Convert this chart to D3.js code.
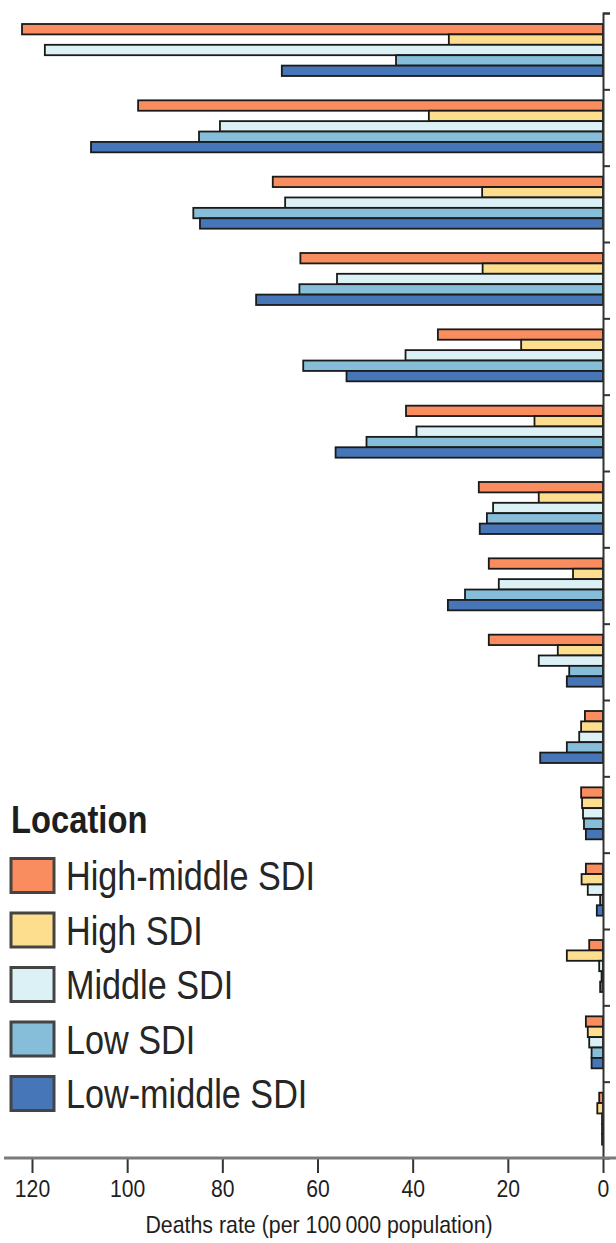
<!DOCTYPE html>
<html>
<head>
<meta charset="utf-8">
<script src="https://cdn.jsdelivr.net/npm/d3@7"></script>
<style>
html,body{margin:0;padding:0;background:#fff;}
svg{display:block;}
text{font-family:"Liberation Sans",Arial,sans-serif;}
</style>
</head>
<body>
<svg id="chart" width="616" height="1243"></svg>
<script>
// ---- data ----
const categories = ["Cause 1","Cause 2","Cause 3","Cause 4","Cause 5","Cause 6","Cause 7","Cause 8",
  "Cause 9","Cause 10","Cause 11","Cause 12","Cause 13","Cause 14","Cause 15"];
const seriesNames = ["High-middle SDI","High SDI","Middle SDI","Low SDI","Low-middle SDI"];
const seriesColors = ["#F98D60","#FDDD8E","#DCF1F6","#86BEDA","#4676B7"];
const highMiddle = [122.1, 97.7, 69.4, 63.6, 34.7, 41.4, 26.1, 24.0, 24.0, 3.8, 4.6, 3.6, 2.9, 3.6, 0.8];
const high       = [ 32.4, 36.6, 25.4, 25.3, 17.2, 14.4, 13.5,  6.3,  9.5, 4.6, 4.4, 4.5, 7.6, 3.2, 1.2];
const middle     = [117.3, 80.5, 66.8, 55.9, 41.5, 39.2, 23.1, 21.9, 13.5, 5.0, 4.2, 3.2, 0.8, 2.9, 0.2];
const low        = [ 43.5, 84.9, 86.1, 63.8, 63.0, 49.7, 24.4, 29.0,  7.1, 7.6, 4.0, 0.6, 0.3, 2.4, 0.2];
const lowMiddle  = [ 67.5,107.6, 84.7, 72.9, 53.9, 56.2, 25.9, 32.6,  7.6,13.2, 3.6, 1.3, 0.6, 2.4, 0.2];
const seriesValues = [highMiddle, high, middle, low, lowMiddle];
const xTicks = [0, 20, 40, 60, 80, 100, 120];
const xTitle = "Deaths rate (per 100\u2009000 population)";
const legendTitle = "Location";

// ---- layout ----
const svg = d3.select("#chart");
const x = d3.scaleLinear().domain([0, 120]).range([603, 32]);
const y = d3.scaleBand().domain(categories).range([13, 1158]).padding(0);
const ySub = d3.scaleBand().domain(seriesNames).range([11, 63]).padding(0);

// condensed text helper
function ctext(sel, tx, ty, sx) {
  return sel.append("text").attr("transform", `translate(${tx},${ty}) scale(${sx},1)`);
}

// bars
const rows = [];
categories.forEach((c, ci) => {
  seriesNames.forEach((s, si) => {
    rows.push({cat: c, series: s, value: seriesValues[si][ci], color: seriesColors[si]});
  });
});
svg.append("g").selectAll("rect").data(rows).join("rect")
  .attr("x", d => x(d.value))
  .attr("y", d => y(d.cat) + ySub(d.series))
  .attr("width", d => x(0) - x(d.value))
  .attr("height", ySub.bandwidth())
  .attr("fill", d => d.color)
  .attr("stroke", "#1a1a1a")
  .attr("stroke-width", 1.8);

// y axis (right side, ticks at band boundaries)
const yIdx = d3.scaleLinear().domain([0, categories.length]).range(y.range());
const yAxis = svg.append("g").attr("transform", `translate(${x(0)},0)`)
  .call(d3.axisRight(yIdx).tickValues(d3.range(0, categories.length)).tickSize(7).tickFormat(""));
yAxis.select(".domain").attr("stroke", "#333").attr("stroke-width", 2);
yAxis.selectAll(".tick line").attr("stroke", "#333").attr("stroke-width", 2);

// x axis
const xAxisY = y.range()[1];
const xAxis = svg.append("g").attr("transform", `translate(0,${xAxisY})`)
  .call(d3.axisBottom(x).tickValues(xTicks).tickSize(15).tickFormat(""));
xAxis.select(".domain").remove();
xAxis.append("line").attr("x1", 4).attr("x2", 616).attr("y1", 0).attr("y2", 0)
  .attr("stroke", "#7a7a7a").attr("stroke-width", 3);
xAxis.selectAll(".tick line").attr("stroke", "#333").attr("stroke-width", 2);
xAxis.selectAll(".tick").each(function(d) {
  ctext(d3.select(this), 0, 39, 0.9)
    .attr("text-anchor", "middle").attr("font-size", 23.5).attr("fill", "#1e1e1e").text(d);
});

ctext(svg, 319, 1233, 0.89).attr("text-anchor", "middle")
  .attr("font-size", 24).attr("fill", "#1e1e1e").text(xTitle);

// legend
const legend = svg.append("g");
ctext(legend, 11, 833, 0.84).attr("font-size", 39)
  .attr("font-weight", "bold").attr("fill", "#1e1e1e").text(legendTitle);
const legY = d3.scaleBand().domain(seriesNames).range([857, 857 + 5 * 54.5]);
const li = legend.selectAll("g.item").data(seriesNames).join("g").attr("class", "item")
  .attr("transform", d => `translate(0,${legY(d)})`);
li.append("rect").attr("x", 11).attr("y", 1.5).attr("width", 43).attr("height", 34)
  .attr("fill", (d, i) => seriesColors[i]).attr("stroke", "#444").attr("stroke-width", 3);
li.each(function(d) {
  ctext(d3.select(this), 66, 33, 0.855).attr("font-size", 40).attr("fill", "#262626").text(d);
});
</script>
</body>
</html>
